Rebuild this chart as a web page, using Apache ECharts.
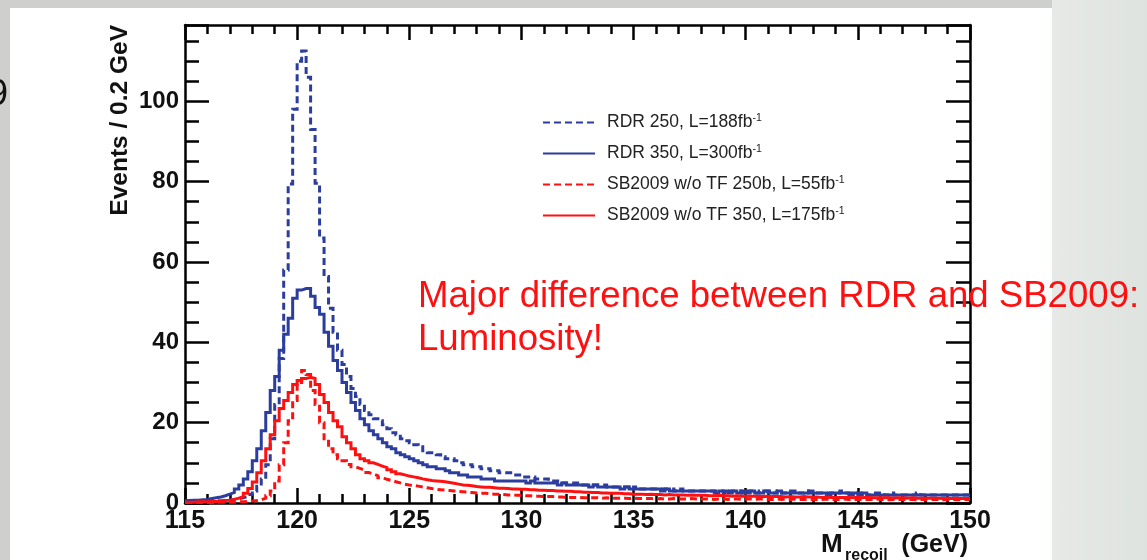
<!DOCTYPE html>
<html>
<head>
<meta charset="utf-8">
<script src="https://cdn.jsdelivr.net/npm/echarts@6/dist/echarts.min.js"></script>
<style>
  html, body { margin: 0; padding: 0; width: 1147px; height: 560px; overflow: hidden; background: #cfcfcd; }
  #white { position: absolute; left: 10px; top: 8px; width: 1042px; height: 552px; background: #ffffff; }
  #rightPanel { position: absolute; left: 1052px; top: 0; width: 95px; height: 560px; background: linear-gradient(90deg, #e6e9e6, #dfe3df); }
  #chart { position: absolute; left: 0; top: 0; width: 1147px; height: 560px; }
</style>
</head>
<body>
<div id="white"></div>
<div id="rightPanel"></div>
<div id="chart"></div>
<script>
// Histogram binning (GeV)
const binStart = 115;
const binWidth = 0.2;

// Series names (legend), superscript "-1" appended in legend
const seriesNames = ['RDR 250, L=188fb', 'RDR 350, L=300fb', 'SB2009 w/o TF 250b, L=55fb', 'SB2009 w/o TF 350, L=175fb'];

// Events / 0.2 GeV, one row per GeV (5 bins)
const rdr250 = [
  0.3, 0.3, 0.4, 0.3, 0.5,
  0.5, 0.6, 0.5, 0.7, 0.8,
  0.9, 1.1, 1.3, 1.6, 2.1,
  3.0, 4.2, 6.0, 9.5, 16.0,
  24.5, 36.0, 58.0, 79.4, 98.0,
  110.0, 112.5, 106.0, 93.0, 79.6,
  66.0, 56.4, 48.5, 42.5, 38.0,
  34.5, 31.5, 28.5, 26.5, 24.5,
  23.0, 22.0, 21.0, 20.5, 19.5,
  18.5, 17.5, 17.0, 16.0, 15.5,
  15.0, 14.5, 14.0, 13.0, 12.5,
  12.5, 12.0, 11.5, 11.0, 11.0,
  10.5, 10.0, 9.5, 9.5, 9.0,
  9.0, 8.5, 8.5, 8.0, 8.0,
  7.5, 7.5, 7.5, 7.0, 7.0,
  6.5, 6.5, 6.5, 6.0, 6.0,
  6.0, 5.5, 5.5, 5.5, 5.0,
  5.0, 5.0, 5.0, 4.5, 4.5,
  4.5, 4.5, 4.5, 4.5, 4.0,
  4.0, 4.0, 4.0, 4.0, 3.5,
  4.0, 3.5, 3.5, 3.5, 3.5,
  3.5, 3.5, 3.5, 3.5, 3.0,
  3.5, 3.0, 3.0, 3.0, 3.0,
  3.0, 3.0, 3.0, 3.0, 3.0,
  2.5, 3.0, 3.0, 3.0, 2.5,
  3.0, 3.0, 2.5, 3.0, 3.0,
  3.0, 2.5, 3.0, 2.5, 2.5,
  3.0, 2.5, 2.5, 3.0, 2.5,
  2.5, 2.5, 2.5, 2.5, 2.5,
  2.5, 3.0, 2.5, 2.5, 2.5,
  2.5, 2.5, 2.0, 2.5, 2.5,
  2.5, 2.0, 2.5, 2.0, 2.0,
  2.0, 2.0, 2.0, 2.5, 2.0,
  2.0, 2.0, 2.0, 2.0, 2.0,
  2.0, 2.0, 2.0, 2.0, 2.0
];
const rdr350 = [
  0.6, 0.7, 0.7, 0.8, 0.9,
  1.1, 1.3, 1.5, 1.8, 2.2,
  2.6, 3.5, 4.5, 6.0, 7.8,
  10.5, 13.5, 18.0, 22.5, 28.0,
  31.5, 38.0, 42.0, 46.0, 51.0,
  53.0, 53.4, 53.4, 51.5, 48.7,
  47.0, 42.5, 39.0, 35.5, 33.0,
  30.0, 27.5, 25.0, 23.0, 21.0,
  19.5, 18.0, 17.0, 16.0, 15.0,
  14.0, 13.5, 12.5, 12.0, 11.5,
  11.0, 10.5, 10.0, 9.5, 9.0,
  9.0, 8.5, 8.5, 8.0, 7.5,
  7.5, 7.0, 7.0, 6.5, 6.5,
  6.5, 6.0, 6.0, 6.0, 5.5,
  5.5, 5.5, 5.5, 5.5, 5.5,
  5.5, 5.0, 5.5, 5.0, 5.0,
  5.0, 5.0, 5.0, 4.5, 5.0,
  4.5, 4.5, 4.5, 4.5, 4.5,
  4.0, 4.5, 4.0, 4.0, 4.0,
  4.0, 4.0, 3.5, 4.0, 3.5,
  3.5, 3.5, 3.5, 3.5, 3.5,
  3.5, 3.0, 3.5, 3.0, 3.0,
  3.0, 3.0, 3.0, 3.0, 3.0,
  3.0, 3.0, 3.0, 2.5, 3.0,
  3.0, 2.5, 3.0, 2.5, 3.0,
  2.5, 3.0, 2.5, 2.5, 3.0,
  2.5, 2.5, 3.0, 2.5, 2.5,
  2.5, 2.5, 2.5, 2.5, 3.0,
  2.5, 2.5, 2.5, 2.0, 2.5,
  2.5, 2.5, 2.5, 2.0, 2.5,
  2.0, 2.5, 2.0, 2.0, 2.0,
  2.0, 2.0, 2.0, 2.0, 2.0,
  2.0, 2.0, 2.0, 2.0, 2.0,
  2.0, 2.0, 2.0, 2.0, 2.0,
  2.0, 2.0, 2.0, 2.0, 2.0
];
const sb250 = [
  0.1, 0.1, 0.1, 0.1, 0.1,
  0.1, 0.2, 0.2, 0.2, 0.2,
  0.2, 0.3, 0.3, 0.4, 0.5,
  0.6, 0.8, 1.2, 1.8, 3.0,
  5.5, 9.5, 15.0, 20.5, 25.5,
  30.0, 33.0, 32.0, 28.0, 24.5,
  20.0, 16.0, 13.5, 12.0, 11.0,
  10.5, 9.6, 9.0, 8.6, 8.2,
  7.6, 7.2, 6.8, 6.3, 5.9,
  5.6, 5.3, 5.0, 4.7, 4.5,
  4.4, 4.2, 4.0, 3.8, 3.6,
  3.4, 3.3, 3.2, 3.1, 3.0,
  2.9, 2.8, 2.7, 2.6, 2.5,
  2.4, 2.4, 2.3, 2.2, 2.2,
  2.1, 2.0, 2.0, 1.9, 1.9,
  1.8, 1.8, 1.7, 1.7, 1.6,
  1.6, 1.6, 1.5, 1.5, 1.4,
  1.4, 1.4, 1.4, 1.3, 1.3,
  1.3, 1.3, 1.2, 1.3, 1.2,
  1.2, 1.2, 1.2, 1.1, 1.2,
  1.1, 1.1, 1.1, 1.1, 1.0,
  1.1, 1.0, 1.0, 1.1, 1.0,
  1.0, 1.0, 1.1, 1.0, 1.0,
  1.0, 1.0, 0.9, 1.0, 1.0,
  0.9, 1.0, 1.0, 0.9, 1.0,
  1.0, 0.9, 1.0, 1.0, 0.9,
  0.9, 1.0, 0.9, 1.0, 0.9,
  1.0, 0.9, 0.9, 1.0, 0.9,
  0.9, 0.9, 1.0, 0.9, 0.9,
  0.9, 1.0, 0.9, 0.9, 0.9,
  0.9, 0.9, 0.9, 1.0, 0.9,
  0.9, 0.8, 0.9, 0.9, 0.9,
  0.9, 0.9, 0.8, 0.9, 0.9,
  0.8, 0.9, 0.9, 0.8, 0.9,
  0.9, 0.8, 0.8, 0.9, 0.8
];
const sb350 = [
  0.2, 0.2, 0.3, 0.3, 0.3,
  0.4, 0.4, 0.5, 0.6, 0.7,
  0.9, 1.2, 1.6, 2.4, 3.6,
  5.2, 7.5, 10.5, 13.5, 17.0,
  20.5, 23.5, 25.5, 27.5, 29.5,
  30.5, 31.0, 31.3, 31.0, 29.5,
  27.0, 25.0, 22.5, 20.5, 19.0,
  16.5, 15.0, 13.5, 12.0, 11.0,
  10.5, 10.0, 9.6, 9.2, 8.8,
  8.3, 7.8, 7.3, 7.0, 6.7,
  6.5, 6.3, 6.0, 5.8, 5.6,
  5.5, 5.4, 5.3, 5.1, 4.9,
  4.7, 4.5, 4.4, 4.3, 4.1,
  4.0, 3.9, 3.9, 3.8, 3.7,
  3.7, 3.6, 3.5, 3.5, 3.4,
  3.4, 3.3, 3.3, 3.2, 3.2,
  3.1, 3.1, 3.0, 3.0, 2.9,
  2.9, 2.8, 2.8, 2.7, 2.7,
  2.6, 2.6, 2.5, 2.5, 2.4,
  2.4, 2.4, 2.3, 2.3, 2.2,
  2.2, 2.2, 2.1, 2.2, 2.1,
  2.1, 2.0, 2.1, 2.0, 2.0,
  2.0, 1.9, 2.0, 1.9, 1.9,
  1.9, 1.8, 1.8, 1.9, 1.8,
  1.8, 1.7, 1.8, 1.7, 1.7,
  1.7, 1.7, 1.6, 1.7, 1.6,
  1.6, 1.6, 1.6, 1.5, 1.6,
  1.5, 1.5, 1.6, 1.5, 1.5,
  1.5, 1.4, 1.5, 1.4, 1.4,
  1.4, 1.4, 1.4, 1.3, 1.4,
  1.3, 1.4, 1.3, 1.3, 1.3,
  1.3, 1.3, 1.2, 1.3, 1.3,
  1.2, 1.3, 1.2, 1.2, 1.2,
  1.2, 1.2, 1.2, 1.1, 1.2,
  1.1, 1.2, 1.1, 1.1, 1.1
];

// Axis settings
const xMin = 115, xMax = 150, xInterval = 5;
const yMin = 0, yMax = 119, yInterval = 20;

const blue = '#2b3d9d';
const red = '#ff1010';
const FONT = 'Liberation Sans, Arial, Helvetica, sans-serif';

function toSteps(values) {
  const pts = values.map((v, i) => [binStart + i * binWidth, v]);
  pts.push([binStart + values.length * binWidth, values[values.length - 1]]);
  return pts;
}

function histSeries(name, values, color, dashed) {
  return {
    name: name,
    type: 'line',
    step: 'end',
    data: toSteps(values),
    symbol: 'none',
    showSymbol: false,
    animation: false,
    clip: true,
    lineStyle: { color: color, width: 3, type: dashed ? [7, 4] : 'solid', cap: 'butt', join: 'miter' },
    itemStyle: { color: color },
    emphasis: { disabled: true }
  };
}

const tickStyle = { color: '#000', width: 2.5 };

const chart = echarts.init(document.getElementById('chart'), null, { renderer: 'canvas' });
chart.setOption({
  backgroundColor: 'transparent',
  animation: false,
  grid: { left: 185, right: 177, top: 25, bottom: 57, containLabel: false },
  legend: {
    left: 537, top: 108, orient: 'vertical',
    itemWidth: 52, itemHeight: 14, itemGap: 12,
    selectedMode: false,
    itemStyle: { opacity: 0 },
    data: seriesNames,
    formatter: function (n) { return n + '{sup|-1}'; },
    textStyle: {
      fontFamily: FONT, fontSize: 17.5, color: '#222', lineHeight: 19, padding: [0, 0, 0, 7],
      rich: { sup: { fontFamily: FONT, fontSize: 10.5, color: '#222', verticalAlign: 'top', lineHeight: 12 } }
    }
  },
  xAxis: [
    {
      type: 'value', position: 'bottom', min: xMin, max: xMax, interval: xInterval,
      axisLine: { show: true, onZero: false, lineStyle: { color: '#000', width: 2.5 } },
      axisTick: { show: true, inside: true, length: 15, lineStyle: tickStyle },
      minorTick: { show: true, splitNumber: 5, length: 9, lineStyle: tickStyle },
      splitLine: { show: false },
      axisLabel: { fontFamily: FONT, fontWeight: 'bold', fontSize: 25, color: '#111', margin: 6 }
    },
    {
      type: 'value', position: 'top', min: xMin, max: xMax, interval: xInterval,
      axisLine: { show: true, onZero: false, lineStyle: { color: '#000', width: 2.5 } },
      axisTick: { show: true, inside: true, length: 15, lineStyle: tickStyle },
      minorTick: { show: true, splitNumber: 5, length: 9, lineStyle: tickStyle },
      splitLine: { show: false },
      axisLabel: { show: false }
    }
  ],
  yAxis: [
    {
      type: 'value', position: 'left', min: yMin, max: yMax, interval: yInterval,
      axisLine: { show: true, onZero: false, lineStyle: { color: '#000', width: 2.5 } },
      axisTick: { show: true, inside: true, length: 24, lineStyle: tickStyle },
      minorTick: { show: true, splitNumber: 4, length: 14, lineStyle: tickStyle },
      splitLine: { show: false },
      axisLabel: { fontFamily: FONT, fontWeight: 'bold', fontSize: 24, color: '#111', margin: 6, showMaxLabel: false }
    },
    {
      type: 'value', position: 'right', min: yMin, max: yMax, interval: yInterval,
      axisLine: { show: true, onZero: false, lineStyle: { color: '#000', width: 2.5 } },
      axisTick: { show: true, inside: true, length: 24, lineStyle: tickStyle },
      minorTick: { show: true, splitNumber: 4, length: 14, lineStyle: tickStyle },
      splitLine: { show: false },
      axisLabel: { show: false }
    }
  ],
  series: [
    histSeries(seriesNames[0], rdr250, blue, true),
    histSeries(seriesNames[1], rdr350, blue, false),
    histSeries(seriesNames[2], sb250, red, true),
    histSeries(seriesNames[3], sb350, red, false)
  ],
  graphic: [
    { type: 'text', x: 120, y: 25, rotation: Math.PI / 2, z: 10,
      style: { text: 'Events / 0.2 GeV', fontFamily: FONT, fontWeight: 'bold', fontSize: 24.5, fill: '#111', align: 'right', verticalAlign: 'middle' } },
    { type: 'text', x: 821, y: 545, z: 10,
      style: { text: 'M', fontFamily: FONT, fontWeight: 'bold', fontSize: 26, fill: '#111', align: 'left', verticalAlign: 'middle' } },
    { type: 'text', x: 845, y: 556, z: 10,
      style: { text: 'recoil', fontFamily: FONT, fontWeight: 'bold', fontSize: 16, fill: '#111', align: 'left', verticalAlign: 'middle' } },
    { type: 'text', x: 968, y: 545, z: 10,
      style: { text: '(GeV)', fontFamily: FONT, fontWeight: 'bold', fontSize: 25, fill: '#111', align: 'right', verticalAlign: 'middle' } },
    { type: 'text', x: 418, y: 297, z: 10,
      style: { text: 'Major difference between RDR and SB2009:', fontFamily: FONT, fontSize: 36.6, fill: red, align: 'left', verticalAlign: 'middle' } },
    { type: 'text', x: 418, y: 340, z: 10,
      style: { text: 'Luminosity!', fontFamily: FONT, fontSize: 36.6, fill: red, align: 'left', verticalAlign: 'middle' } },
    { type: 'text', x: -12, y: 95, z: 10,
      style: { text: '9', fontFamily: FONT, fontSize: 36, fill: '#111', align: 'left', verticalAlign: 'middle' } }
  ]
});
</script>
</body>
</html>
